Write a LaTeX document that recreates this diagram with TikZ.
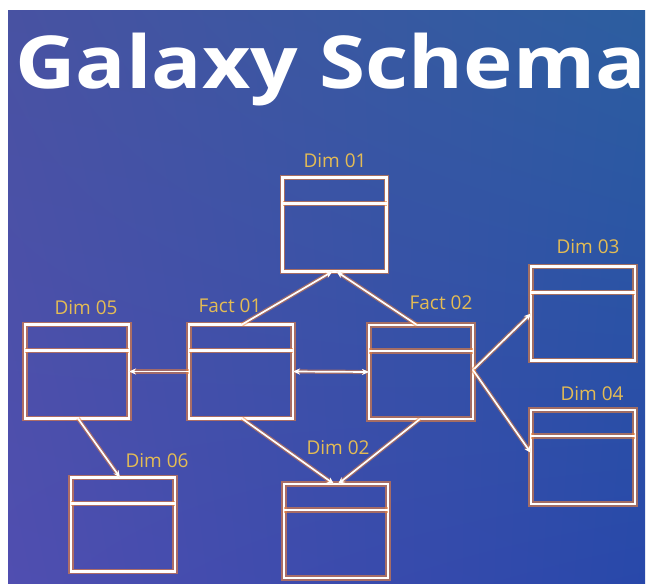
\documentclass[tikz,border=0pt]{standalone}
\usepackage{fontspec}
\setmainfont{Open Sans}
\usetikzlibrary{arrows.meta,shadings}
\definecolor{glowc}{RGB}{240,130,55}
\definecolor{lblc}{RGB}{228,188,84}
\definecolor{bgul}{RGB}{72,82,162}
\definecolor{bgur}{RGB}{44,94,160}
\definecolor{bgll}{RGB}{80,78,176}
\definecolor{bglr}{RGB}{40,72,170}
\tikzset{
  glow/.style={preaction={draw=glowc, line width=5.5pt, opacity=0.6}},
  tbl/.style={rectangle, draw=white, line width=2.3pt, minimum width=104pt, minimum height=94pt, inner sep=0pt, outer sep=0pt, glow},
  divline/.style={draw=white, line width=2.3pt, glow},
  lbl/.style={text=lblc, font=\fontsize{19}{19}\selectfont, inner sep=0pt, anchor=base},
  conn/.style={draw=white, line width=1.7pt, -{Stealth[length=7pt,width=6pt]},
    preaction={draw=glowc, line width=4.2pt, opacity=0.55}},
  conn2/.style={draw=white, line width=1.7pt, {Stealth[length=7pt,width=6pt]}-{Stealth[length=7pt,width=6pt]},
    preaction={draw=glowc, line width=4.2pt, opacity=0.55}}
}
\begin{document}
\begin{tikzpicture}[x=1pt,y=-1pt]
\useasboundingbox (0,0) rectangle (646,584);
\fill[white] (0,0) rectangle (646,584);
\shade[upper left=bgul, upper right=bgur, lower left=bgll, lower right=bglr] (8,10) rectangle (645,584);
\node[anchor=base west, text=white, font=\bfseries\fontsize{73}{73}\selectfont, inner sep=0pt, xscale=1.145] (title) at (15,88) {Galaxy Schema};
% tables
\node[tbl] (d1) at (334.5,224.5) {};
\node[tbl] (f1) at (241,371.5) {};
\node[tbl] (d5) at (77,371.5) {};
\node[tbl] (d6) at (123,524.5) {};
\node[tbl] (d2) at (336,531) {};
\node[tbl] (f2) at (421,372) {};
\node[tbl] (d3) at (583,313.5) {};
\node[tbl] (d4) at (583,457) {};
\foreach \n in {d1,f1,d5,d6,d2,f2,d3,d4}
  \path[divline] ([yshift=-26pt]\n.north west) -- ([yshift=-26pt]\n.north east);
% labels
\node[lbl] (ld1) at (335,167) {Dim 01};
\node[lbl] (lf1) at (230,312) {Fact 01};
\node[lbl] (ld5) at (86,314) {Dim 05};
\node[lbl] (ld6) at (157,467) {Dim 06};
\node[lbl] (ld2) at (338,454) {Dim 02};
\node[lbl] (lf2) at (441,309) {Fact 02};
\node[lbl] (ld3) at (588,253) {Dim 03};
\node[lbl] (ld4) at (592,400) {Dim 04};
% connectors
\path[conn] ([xshift=1pt]f1.north) -- ([xshift=-2pt]d1.south);
\path[conn] ([xshift=-4pt]f2.north) -- ([xshift=2pt]d1.south);
\path[conn] (f1.west) -- (d5.east);
\path[conn2] (f1.east) -- (f2.west);
\path[conn] ([yshift=2pt]f2.east) -- (d3.west);
\path[conn] ([yshift=2pt]f2.east) -- ([yshift=4pt]d4.west);
\path[conn] ([xshift=1pt]f1.south) -- ([xshift=-2pt]d2.north);
\path[conn] ([xshift=-1pt]f2.south) -- ([xshift=2pt]d2.north);
\path[conn] ([xshift=1pt]d5.south) -- ([xshift=-3pt]d6.north);
\end{tikzpicture}
\end{document}
